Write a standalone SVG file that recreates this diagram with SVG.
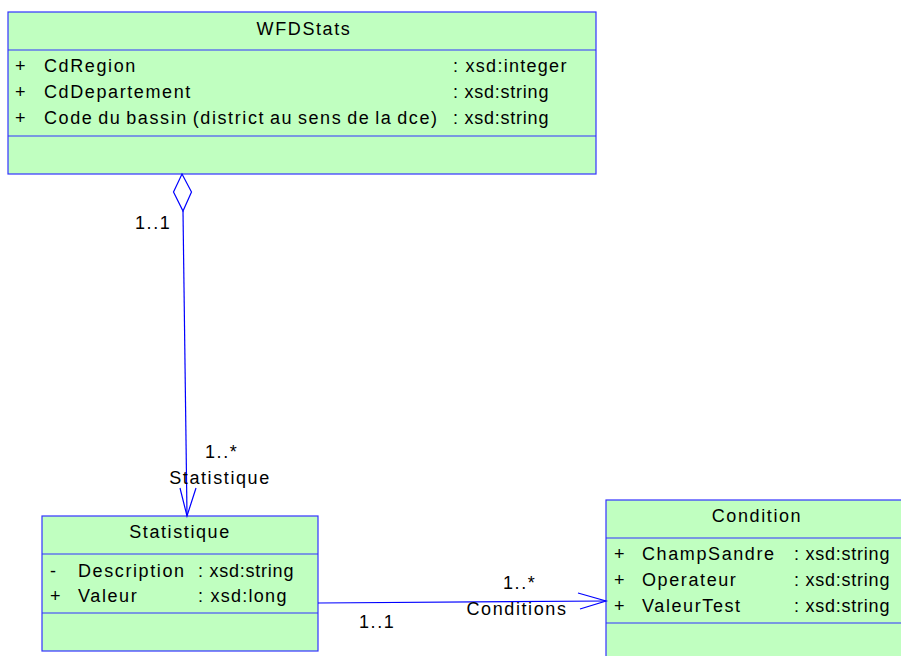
<svg xmlns="http://www.w3.org/2000/svg" width="901" height="656" viewBox="0 0 901 656">
  <style>
    .box { fill: #c0ffc0; stroke: #3333ff; stroke-width: 1.2; }
    .sep { stroke: #3333ff; stroke-width: 1.2; }
    .line { fill: none; stroke: #0000ff; stroke-width: 1.2; }
    text { font-family: "Liberation Sans", Arial, sans-serif; font-size: 18px; fill: #000; letter-spacing: 1.6px; word-spacing: -1.8px; }
    .mid { text-anchor: middle; }
    .type { letter-spacing: 0.6px; word-spacing: 0; }
  </style>
  <rect width="901" height="656" fill="#fff"/>

  <g id="WFDStats">
    <rect class="box" x="8" y="12" width="588" height="162"/>
    <line class="sep" x1="8" y1="50" x2="596" y2="50"/>
    <line class="sep" x1="8" y1="136" x2="596" y2="136"/>
    <text class="mid" x="304" y="35">WFDStats</text>
    <text x="15" y="72">+</text><text x="44" y="72">CdRegion</text><text class="type" x="453" y="72" textLength="114" lengthAdjust="spacing">: xsd:integer</text>
    <text x="15" y="98">+</text><text x="44" y="98">CdDepartement</text><text class="type" x="453" y="98" textLength="96" lengthAdjust="spacing">: xsd:string</text>
    <text x="15" y="124">+</text><text x="44" y="124">Code du bassin (district au sens de la dce)</text><text class="type" x="453" y="124" textLength="96" lengthAdjust="spacing">: xsd:string</text>
  </g>

  <g id="Statistique">
    <rect class="box" x="42" y="516" width="276" height="135"/>
    <line class="sep" x1="42" y1="554" x2="318" y2="554"/>
    <line class="sep" x1="42" y1="613" x2="318" y2="613"/>
    <text class="mid" x="180" y="538">Statistique</text>
    <text x="50" y="577">-</text><text x="78" y="577">Description</text><text class="type" x="198" y="577" textLength="96" lengthAdjust="spacing">: xsd:string</text>
    <text x="50" y="602">+</text><text x="78" y="602">Valeur</text><text class="type" x="198" y="602" textLength="89" lengthAdjust="spacing">: xsd:long</text>
  </g>

  <g id="Condition">
    <rect class="box" x="606" y="500" width="300" height="170"/>
    <line class="sep" x1="606" y1="538" x2="901" y2="538"/>
    <line class="sep" x1="606" y1="623" x2="901" y2="623"/>
    <text class="mid" x="757" y="522">Condition</text>
    <text x="614" y="560">+</text><text x="642" y="560">ChampSandre</text><text class="type" x="794" y="560" textLength="96" lengthAdjust="spacing">: xsd:string</text>
    <text x="614" y="586">+</text><text x="642" y="586">Operateur</text><text class="type" x="794" y="586" textLength="96" lengthAdjust="spacing">: xsd:string</text>
    <text x="614" y="612">+</text><text x="642" y="612">ValeurTest</text><text class="type" x="794" y="612" textLength="96" lengthAdjust="spacing">: xsd:string</text>
  </g>

  <g id="connectors">
    <!-- aggregation WFDStats -> Statistique -->
    <polygon class="line" points="182,174 191.5,192 183,211 173.5,192" fill="#fff"/>
    <line class="line" x1="183" y1="211" x2="187" y2="516"/>
    <polyline class="line" points="180,488 187,516 196,488"/>
    <text x="135" y="229">1..1</text>
    <text x="205" y="458">1..*</text>
    <text class="mid" x="220" y="484">Statistique</text>

    <!-- association Statistique -> Condition -->
    <line class="line" x1="318" y1="603" x2="606" y2="601"/>
    <polyline class="line" points="578,593 606,601 580,609"/>
    <text x="503" y="589">1..*</text>
    <text class="mid" x="517" y="615">Conditions</text>
    <text x="359" y="628">1..1</text>
  </g>
</svg>
